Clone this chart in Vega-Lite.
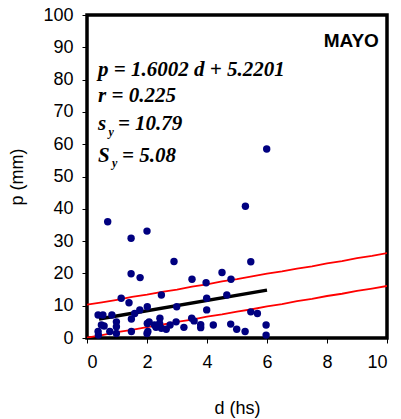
{
  "$schema": "https://vega.github.io/schema/vega-lite/v6.json",
  "width": 300,
  "height": 323,
  "autosize": "none",
  "padding": {"left": 87, "top": 15, "right": 14, "bottom": 81},
  "background": "white",
  "config": {
    "view": {"stroke": "black", "strokeWidth": 3.5},
    "axis": {
      "grid": false, "domain": false, "ticks": true, "tickColor": "black", "tickWidth": 1, "tickSize": 5,
      "labelFont": "Liberation Sans", "labelFontSize": 18, "labelColor": "black",
      "titleFont": "Liberation Sans", "titleFontSize": 18, "titleFontWeight": "normal", "titleColor": "black"
    },
    "text": {"color": "black", "baseline": "alphabetic", "align": "left", "font": "Liberation Serif", "fontStyle": "italic", "fontWeight": "bold", "fontSize": 21}
  },
  "datasets": {
    "obs": [
      {"d": 0.69, "p": 36.0}, {"d": 1.47, "p": 30.9}, {"d": 2.0, "p": 33.1}, {"d": 2.9, "p": 23.7},
      {"d": 1.47, "p": 19.9}, {"d": 1.77, "p": 18.7}, {"d": 4.5, "p": 20.3}, {"d": 3.5, "p": 18.2},
      {"d": 3.97, "p": 17.1}, {"d": 4.8, "p": 18.2}, {"d": 5.99, "p": 58.5}, {"d": 5.28, "p": 40.8},
      {"d": 5.46, "p": 23.6},
      {"d": 1.14, "p": 12.3}, {"d": 1.4, "p": 10.9}, {"d": 2.48, "p": 13.3}, {"d": 3.99, "p": 12.3},
      {"d": 4.66, "p": 13.3}, {"d": 2.01, "p": 9.7}, {"d": 1.76, "p": 8.7}, {"d": 1.59, "p": 7.6},
      {"d": 2.99, "p": 9.7}, {"d": 3.99, "p": 8.7}, {"d": 5.46, "p": 8.1}, {"d": 5.68, "p": 7.6},
      {"d": 0.37, "p": 7.1}, {"d": 0.53, "p": 7.1}, {"d": 0.83, "p": 7.1},
      {"d": 1.48, "p": 5.9}, {"d": 0.98, "p": 5.0}, {"d": 0.98, "p": 3.5}, {"d": 0.48, "p": 4.0},
      {"d": 2.01, "p": 4.5}, {"d": 2.07, "p": 5.0}, {"d": 2.25, "p": 4.0}, {"d": 2.42, "p": 4.5},
      {"d": 2.43, "p": 6.1}, {"d": 2.97, "p": 5.0}, {"d": 3.49, "p": 6.1}, {"d": 3.57, "p": 5.3},
      {"d": 2.77, "p": 4.0}, {"d": 2.3, "p": 3.3}, {"d": 2.48, "p": 3.0}, {"d": 2.64, "p": 2.7},
      {"d": 3.23, "p": 3.3}, {"d": 3.79, "p": 4.1}, {"d": 3.79, "p": 3.2}, {"d": 4.21, "p": 4.0},
      {"d": 4.79, "p": 4.3}, {"d": 4.99, "p": 2.7}, {"d": 5.27, "p": 2.0}, {"d": 5.97, "p": 4.0},
      {"d": 5.97, "p": 0.9},
      {"d": 0.37, "p": 2.0}, {"d": 0.38, "p": 0.9}, {"d": 0.76, "p": 2.0}, {"d": 0.98, "p": 1.4},
      {"d": 0.57, "p": 3.7}, {"d": 1.48, "p": 2.0}, {"d": 2.03, "p": 2.0}, {"d": 2.0, "p": 1.4}
    ],
    "fit": [{"d": 0.4, "p": 5.86}, {"d": 6.0, "p": 14.82}],
    "band": [
      {"s": "up", "d": 0, "p": 10.3}, {"s": "up", "d": 0.5, "p": 11.0}, {"s": "up", "d": 1, "p": 11.8},
      {"s": "up", "d": 1.5, "p": 12.7}, {"s": "up", "d": 2, "p": 13.4}, {"s": "up", "d": 2.5, "p": 14.3},
      {"s": "up", "d": 3, "p": 15.0}, {"s": "up", "d": 3.5, "p": 15.9}, {"s": "up", "d": 4, "p": 16.6},
      {"s": "up", "d": 4.5, "p": 17.5}, {"s": "up", "d": 5, "p": 18.2}, {"s": "up", "d": 5.5, "p": 19.1},
      {"s": "up", "d": 6, "p": 19.9}, {"s": "up", "d": 6.5, "p": 20.6}, {"s": "up", "d": 7, "p": 21.5},
      {"s": "up", "d": 7.5, "p": 22.2}, {"s": "up", "d": 8, "p": 23.1}, {"s": "up", "d": 8.5, "p": 23.8},
      {"s": "up", "d": 9, "p": 24.7}, {"s": "up", "d": 9.5, "p": 25.4}, {"s": "up", "d": 10, "p": 26.3},
      {"s": "lo", "d": 0, "p": 0.1}, {"s": "lo", "d": 0.5, "p": 0.9}, {"s": "lo", "d": 1, "p": 1.8},
      {"s": "lo", "d": 1.5, "p": 2.5}, {"s": "lo", "d": 2, "p": 3.4}, {"s": "lo", "d": 2.5, "p": 4.1},
      {"s": "lo", "d": 3, "p": 5.0}, {"s": "lo", "d": 3.5, "p": 5.7}, {"s": "lo", "d": 4, "p": 6.6},
      {"s": "lo", "d": 4.5, "p": 7.3}, {"s": "lo", "d": 5, "p": 8.2}, {"s": "lo", "d": 5.5, "p": 8.9},
      {"s": "lo", "d": 6, "p": 9.8}, {"s": "lo", "d": 6.5, "p": 10.5}, {"s": "lo", "d": 7, "p": 11.4},
      {"s": "lo", "d": 7.5, "p": 12.1}, {"s": "lo", "d": 8, "p": 13.0}, {"s": "lo", "d": 8.5, "p": 13.7},
      {"s": "lo", "d": 9, "p": 14.6}, {"s": "lo", "d": 9.5, "p": 15.3}, {"s": "lo", "d": 10, "p": 16.1}
    ],
    "notes": [
      {"t": "MAYO", "d": 9.73, "p": 90.2, "k": "head"},
      {"t": "p = 1.6002 d + 5.2201", "d": 0.37, "p": 81.1, "k": "big"},
      {"t": "r = 0.225", "d": 0.37, "p": 73.2, "k": "big"},
      {"t": "s", "d": 0.37, "p": 64.4, "k": "big"},
      {"t": "= 10.79", "d": 1.03, "p": 64.4, "k": "big"},
      {"t": "S", "d": 0.37, "p": 54.6, "k": "big"},
      {"t": "= 5.08", "d": 1.17, "p": 54.6, "k": "big"},
      {"t": "y", "d": 0.72, "p": 62.6, "k": "sub"},
      {"t": "y", "d": 0.83, "p": 52.8, "k": "sub"}
    ]
  },
  "encoding": {
    "x": {"field": "d", "type": "quantitative", "scale": {"domain": [0, 10]},
          "axis": {"values": [0, 2, 4, 6, 8, 10], "title": "d (hs)", "labelPadding": 10, "titlePadding": 28, "labelOverlap": false}},
    "y": {"field": "p", "type": "quantitative", "scale": {"domain": [0, 100]},
          "axis": {"values": [0, 10, 20, 30, 40, 50, 60, 70, 80, 90, 100], "title": "p (mm)", "labelPadding": 9, "titlePadding": 16, "labelOverlap": false}}
  },
  "layer": [
    {
      "data": {"name": "band"},
      "mark": {"type": "line", "color": "#ff0000", "strokeWidth": 1.8, "clip": true},
      "encoding": {"detail": {"field": "s"}}
    },
    {
      "data": {"name": "fit"},
      "mark": {"type": "line", "color": "black", "strokeWidth": 3.5},
      "encoding": {}
    },
    {
      "data": {"name": "obs"},
      "mark": {"type": "point", "filled": true, "color": "#000080", "opacity": 1, "size": 55},
      "encoding": {}
    },
    {
      "data": {"name": "notes"},
      "transform": [{"filter": "datum.k === 'head'"}],
      "mark": {"type": "text", "font": "Liberation Sans", "fontStyle": "normal", "fontWeight": "bold", "fontSize": 19, "align": "right"},
      "encoding": {"text": {"field": "t"}}
    },
    {
      "data": {"name": "notes"},
      "transform": [{"filter": "datum.k === 'big'"}],
      "mark": {"type": "text"},
      "encoding": {"text": {"field": "t"}}
    },
    {
      "data": {"name": "notes"},
      "transform": [{"filter": "datum.k === 'sub'"}],
      "mark": {"type": "text", "fontSize": 12},
      "encoding": {"text": {"field": "t"}}
    }
  ]
}
